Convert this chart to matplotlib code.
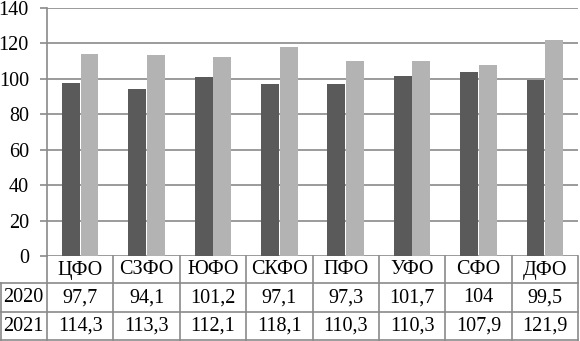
import numpy as np
import matplotlib
matplotlib.use("Agg")
import matplotlib.pyplot as plt
from matplotlib.lines import Line2D
from matplotlib.transforms import blended_transform_factory

plt.rcParams['font.family'] = ['Liberation Serif', 'DejaVu Serif']

regions = ['ЦФО', 'СЗФО', 'ЮФО', 'СКФО', 'ПФО', 'УФО', 'СФО', 'ДФО']
years = ['2020', '2021']
v2020 = [97.7, 94.1, 101.2, 97.1, 97.3, 101.7, 104, 99.5]
v2021 = [114.3, 113.3, 112.1, 118.1, 110.3, 110.3, 107.9, 121.9]
labels2020 = ['97,7', '94,1', '101,2', '97,1', '97,3', '101,7', '104', '99,5']
labels2021 = ['114,3', '113,3', '112,1', '118,1', '110,3', '110,3', '107,9', '121,9']

W, H = 580, 341
fs = 14.5
fig = plt.figure(figsize=(W / 100, H / 100), dpi=100)

# plot area in pixels
left, right, top, bottom = 47, 578, 8, 256
ax = fig.add_axes([left / W, 1 - bottom / H, (right - left) / W, (bottom - top) / H])

x = np.arange(len(regions))
bw = 0.27
ax.bar(x - 0.14, v2020, bw, color='#5a5a5a', zorder=3)
ax.bar(x + 0.14, v2021, bw, color='#b3b3b3', zorder=3)

ax.set_xlim(-0.5, len(regions) - 0.5)
ax.set_ylim(0, 140)
ax.set_yticks(range(0, 141, 20))
ax.yaxis.grid(True, color='#8a8a8a', linewidth=1.2, zorder=0)
ax.set_xticks([])
for s in ['top', 'right', 'bottom']:
    ax.spines[s].set_visible(False)
ax.spines['left'].set_color('#8a8a8a')
ax.spines['left'].set_linewidth(1.2)
ax.tick_params(axis='y', length=5, width=1.2, color='#8a8a8a', pad=8, labelsize=fs)

# data table below the chart
lc = '#8a8a8a'
def fy(py):
    return 1 - py / H
def fx(px):
    return px / W

for py in [283, 312, 340]:
    fig.add_artist(Line2D([fx(0), fx(right)], [fy(py), fy(py)], color=lc, lw=1.2))
fig.add_artist(Line2D([fx(0.6), fx(0.6)], [fy(283), fy(340)], color=lc, lw=1.2))

tr = blended_transform_factory(ax.transData, fig.transFigure)
for b in np.arange(len(regions) + 1) - 0.5:
    fig.add_artist(Line2D([b, b], [fy(256), fy(340)], color=lc, lw=1.2, transform=tr))

for i, r in enumerate(regions):
    fig.text(x[i], fy(270), r, transform=tr, ha='center', va='center', fontsize=fs)
    fig.text(x[i], fy(298), labels2020[i], transform=tr, ha='center', va='center', fontsize=fs)
    fig.text(x[i], fy(326.5), labels2021[i], transform=tr, ha='center', va='center', fontsize=fs)

fig.text(fx(23.5), fy(298), years[0], ha='center', va='center', fontsize=fs)
fig.text(fx(23.5), fy(326.5), years[1], ha='center', va='center', fontsize=fs)

fig.savefig('out.png', dpi=100)
